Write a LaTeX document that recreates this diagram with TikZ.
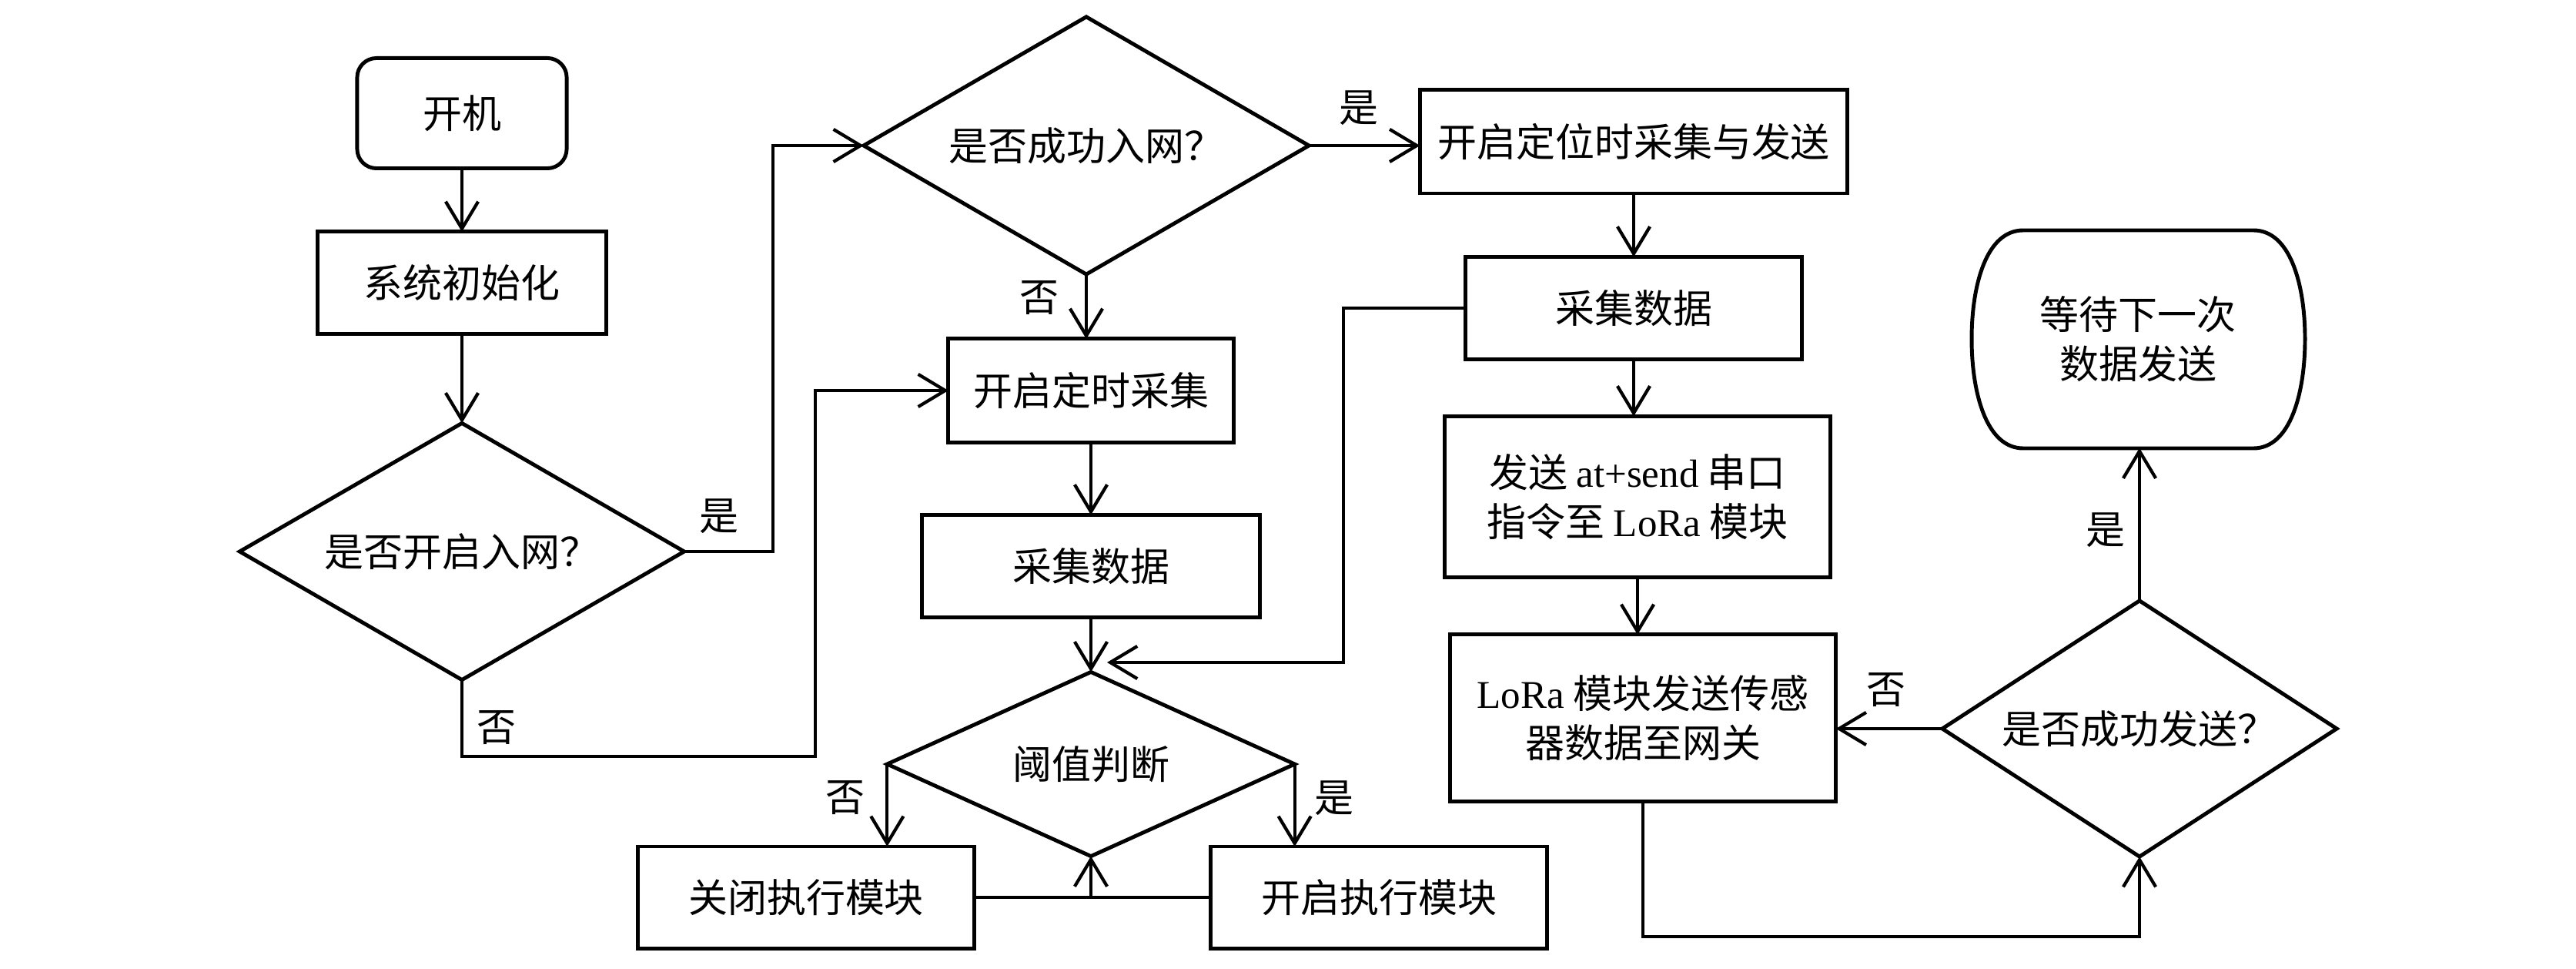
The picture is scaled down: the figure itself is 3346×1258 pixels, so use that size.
\documentclass[tikz,border=0pt]{standalone}
\usepackage{fontspec}
\setmainfont{Liberation Serif}
\newfontfamily\cjk{Noto Sans CJK SC}
\usetikzlibrary{shapes.geometric,arrows.meta,calc}
\begin{document}
\begin{tikzpicture}[x=0.01cm,y=-0.01cm,
  txt/.style={font=\cjk\fontsize{14.5}{18}\selectfont},
  box/.style={txt,draw,line width=1.4pt,rectangle,inner sep=0pt,outer sep=0pt,align=center},
  dia/.style={txt,draw,line width=1.4pt,diamond,aspect=2,inner sep=0pt,outer sep=0pt,align=center},
  lbl/.style={txt,inner sep=0pt},
  conn/.style={line width=1.2pt,-{Straight Barb[length=10pt,width=12pt,line width=1.2pt]}},
  plainline/.style={line width=1.2pt}
]
\useasboundingbox[fill=white] (0,0) rectangle (3346,1258);

% nodes
\node[box,rounded corners=0.25cm,minimum width=2.72cm,minimum height=1.43cm] (start) at (600,147) {开机};
\node[box,minimum width=3.74cm,minimum height=1.32cm] (init) at (600,367) {系统初始化};
\node[dia,minimum width=5.77cm,minimum height=3.33cm] (d1) at (600,716) {是否开启入网？};
\node[dia,minimum width=5.78cm,minimum height=3.34cm] (d2) at (1411,189) {是否成功入网？};
\node[box,minimum width=5.55cm,minimum height=1.34cm] (loc) at (2122,184) {开启定位时采集与发送};
\node[box,minimum width=3.70cm,minimum height=1.34cm] (timer) at (1417,507) {开启定时采集};
\node[box,minimum width=4.38cm,minimum height=1.33cm] (acqA) at (1417,735) {采集数据};
\node[dia,minimum width=5.29cm,minimum height=2.39cm] (d3) at (1417,992) {阈值判断};
\node[box,minimum width=4.37cm,minimum height=1.32cm] (off) at (1047,1165) {关闭执行模块};
\node[box,minimum width=4.37cm,minimum height=1.32cm] (on) at (1791,1165) {开启执行模块};
\node[box,minimum width=4.37cm,minimum height=1.33cm] (acqB) at (2122,400) {采集数据};
\node[box,minimum width=5.01cm,minimum height=2.09cm] (send) at (2127,645) {发送 {\rmfamily at+send} 串口\\指令至 {\rmfamily LoRa} 模块};
\node[box,minimum width=5.01cm,minimum height=2.16cm] (lora) at (2134,932) {{\rmfamily LoRa} 模块发送传感\\器数据至网关};
\node[dia,minimum width=5.12cm,minimum height=3.32cm] (d4) at (2779,946) {是否成功发送？};
\node[txt,inner sep=0pt,outer sep=0pt,minimum width=4.33cm,minimum height=2.83cm,align=center] (wait) at (2777,440) {等待下一次\\数据发送};
\draw[line width=1.4pt] (2628,299) -- (2927,299)
  .. controls (2975,299) and (2994,370) .. (2994,440)
  .. controls (2994,510) and (2975,582) .. (2927,582)
  -- (2628,582)
  .. controls (2580,582) and (2561,510) .. (2561,440)
  .. controls (2561,370) and (2580,299) .. (2628,299) -- cycle;

% helper coordinates
\coordinate (jA) at (1004,450);
\coordinate (jB) at (1059,982);
\coordinate (jC) at (1745,860);
\coordinate (tipC) at (1438,860);
\coordinate (jD) at (2133,1216);

% connectors
\draw[conn] (start.south) -- (init.north);
\draw[conn] (init.south) -- (d1.north);
\draw[conn] (d1.east) -| (jA) |- (d2.west);
\draw[conn] (d1.south) |- (jB) |- (timer.west);
\draw[conn] (d2.east) -- (d2.east -| loc.west);
\draw[conn] (d2.south) -- (d2.south |- timer.north);
\draw[conn] (loc.south) -- (loc.south |- acqB.north);
\draw[conn] (timer.south) -- (timer.south |- acqA.north);
\draw[conn] (acqA.south) -- (acqA.south |- d3.north);
\draw[conn] (acqB.west) -| (jC) -- (tipC);
\draw[conn] (d3.west) -- (d3.west |- off.north);
\draw[conn] (d3.east) -- (d3.east |- on.north);
\draw[plainline] (off.east) -- (on.west);
\draw[conn] (d3.south |- off.east) -- (d3.south);
\draw[conn] (acqB.south) -- (acqB.south |- send.north);
\draw[conn] (send.south) -- (send.south |- lora.north);
\draw[conn] (lora.south) -- (lora.south |- jD) -| (d4.south);
\draw[conn] (d4.west) -- (d4.west -| lora.east);
\draw[conn] (d4.north) -- (d4.north |- wait.south);

% labels
\node[lbl] (l1) at (934,670) {是};
\node[lbl] (l2) at (645,945) {否};
\node[lbl] (l3) at (1765,140) {是};
\node[lbl] (l4) at (1350,387) {否};
\node[lbl] (l5) at (1098,1036) {否};
\node[lbl] (l6) at (1733,1036) {是};
\node[lbl] (l7) at (2450,896) {否};
\node[lbl] (l8) at (2735,688) {是};
\end{tikzpicture}
\end{document}
